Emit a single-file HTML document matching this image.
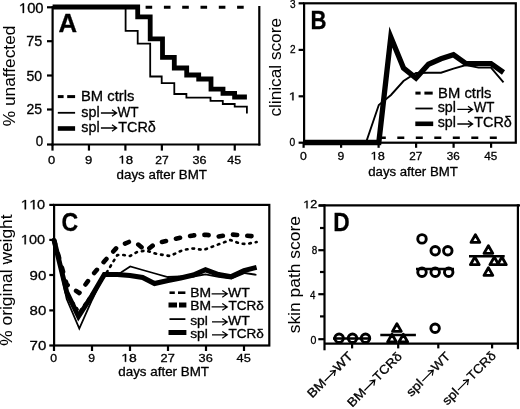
<!DOCTYPE html>
<html><head><meta charset="utf-8"><style>
html,body{margin:0;padding:0;background:#fff;}
svg{display:block;filter:grayscale(1);}
text{font-family:"Liberation Sans",sans-serif;fill:#000;stroke:#000;stroke-width:0.3px;}
.yt text{stroke-width:0.05px;}
</style></head><body>
<svg width="520" height="409" viewBox="0 0 520 409">
<rect x="0" y="0" width="520" height="409" fill="#fff"/>
<g stroke="#000" stroke-linecap="butt" fill="none">
<line x1="52.60" y1="6.00" x2="52.60" y2="145.60" stroke-width="2.2" />
<line x1="51.50" y1="144.50" x2="260.40" y2="144.50" stroke-width="2.2" />
<line x1="259.30" y1="6.00" x2="259.30" y2="145.60" stroke-width="2.2" />
<line x1="47.00" y1="7.30" x2="52.60" y2="7.30" stroke-width="2.2" />
<line x1="47.00" y1="41.20" x2="52.60" y2="41.20" stroke-width="2.2" />
<line x1="47.00" y1="75.50" x2="52.60" y2="75.50" stroke-width="2.2" />
<line x1="47.00" y1="109.50" x2="52.60" y2="109.50" stroke-width="2.2" />
<line x1="47.00" y1="144.50" x2="52.60" y2="144.50" stroke-width="2.2" />
<line x1="52.50" y1="144.50" x2="52.50" y2="150.60" stroke-width="2.2" />
<line x1="88.95" y1="144.50" x2="88.95" y2="150.60" stroke-width="2.2" />
<line x1="125.40" y1="144.50" x2="125.40" y2="150.60" stroke-width="2.2" />
<line x1="161.85" y1="144.50" x2="161.85" y2="150.60" stroke-width="2.2" />
<line x1="198.30" y1="144.50" x2="198.30" y2="150.60" stroke-width="2.2" />
<line x1="234.75" y1="144.50" x2="234.75" y2="150.60" stroke-width="2.2" />
<polyline points="52.6,7.3 243.7,7.3" stroke-width="3" fill="none" stroke-dasharray="6.6 11.7" stroke-dashoffset="16.8"/>
<polyline points="52.6,7.3 125.6,7.3 125.6,30.8 137.7,30.8 137.7,43.6 150.2,43.6 150.2,76.5 161.7,76.5 161.7,83.2 174.3,83.2 174.3,94.0 186.4,94.0 186.4,97.6 210.5,97.6 210.5,100.8 222.8,100.8 222.8,104.0 234.7,104.0 234.7,106.7 246.9,106.7 246.9,113.5" stroke-width="1.8" fill="none" stroke-linejoin="miter"/>
<polyline points="52.6,7.0 137.7,7.0 137.7,16.9 150.2,16.9 150.2,38.9 162.5,38.9 162.5,57.4 174.3,57.4 174.3,68.0 186.7,68.0 186.7,75.0 198.7,75.0 198.7,79.0 211.0,79.0 211.0,89.1 223.0,89.1 223.0,93.4 234.6,93.4 234.6,97.0 246.9,97.0" stroke-width="4.8" fill="none" stroke-linejoin="miter"/>
<line x1="57.80" y1="96.60" x2="63.60" y2="96.60" stroke-width="3" />
<line x1="67.20" y1="96.60" x2="75.10" y2="96.60" stroke-width="3" />
<line x1="57.80" y1="112.80" x2="75.10" y2="112.80" stroke-width="1.8" />
<line x1="57.80" y1="128.50" x2="75.10" y2="128.50" stroke-width="4.6" />
<rect x="304.1" y="3.3" width="211.7" height="139.4" fill="none" stroke-width="2.2"/>
<line x1="298.60" y1="3.30" x2="304.10" y2="3.30" stroke-width="2.2" />
<line x1="298.60" y1="49.90" x2="304.10" y2="49.90" stroke-width="2.2" />
<line x1="298.60" y1="96.30" x2="304.10" y2="96.30" stroke-width="2.2" />
<line x1="298.60" y1="142.70" x2="304.10" y2="142.70" stroke-width="2.2" />
<line x1="303.60" y1="142.70" x2="303.60" y2="147.80" stroke-width="2.2" />
<line x1="341.10" y1="142.70" x2="341.10" y2="147.80" stroke-width="2.2" />
<line x1="378.60" y1="142.70" x2="378.60" y2="147.80" stroke-width="2.2" />
<line x1="416.10" y1="142.70" x2="416.10" y2="147.80" stroke-width="2.2" />
<line x1="453.60" y1="142.70" x2="453.60" y2="147.80" stroke-width="2.2" />
<line x1="491.10" y1="142.70" x2="491.10" y2="147.80" stroke-width="2.2" />
<polyline points="378.8,137.7 497.0,137.7" stroke-width="2.6" fill="none" stroke-dasharray="7 11.5"/>
<polyline points="304.0,142.7 366.0,142.5 378.8,105.0 391.0,95.0 403.5,81.0 416.0,73.0 428.5,72.7 441.0,72.7 453.5,68.6 466.0,65.0 478.5,67.6 491.0,67.6 503.5,82.4" stroke-width="1.9" fill="none" />
<polyline points="304.0,142.5 378.8,142.5 390.8,37.0 403.5,68.0 416.0,78.0 428.5,64.2 441.0,58.8 453.5,54.8 466.0,63.6 478.5,63.6 491.0,63.6 503.5,72.5" stroke-width="5.3" fill="none" stroke-linejoin="miter" stroke-miterlimit="10"/>
<line x1="415.40" y1="93.10" x2="420.60" y2="93.10" stroke-width="3" />
<line x1="424.40" y1="93.10" x2="432.70" y2="93.10" stroke-width="3" />
<line x1="415.40" y1="108.50" x2="432.70" y2="108.50" stroke-width="1.8" />
<line x1="415.30" y1="123.80" x2="433.20" y2="123.80" stroke-width="4.6" />
<rect x="54.1" y="204.9" width="215.2" height="140.6" fill="none" stroke-width="2.2"/>
<line x1="49.30" y1="204.90" x2="54.10" y2="204.90" stroke-width="2.2" />
<line x1="49.30" y1="239.90" x2="54.10" y2="239.90" stroke-width="2.2" />
<line x1="49.30" y1="275.00" x2="54.10" y2="275.00" stroke-width="2.2" />
<line x1="49.30" y1="310.40" x2="54.10" y2="310.40" stroke-width="2.2" />
<line x1="49.30" y1="345.50" x2="54.10" y2="345.50" stroke-width="2.2" />
<line x1="54.00" y1="345.50" x2="54.00" y2="351.00" stroke-width="2.2" />
<line x1="92.00" y1="345.50" x2="92.00" y2="351.00" stroke-width="2.2" />
<line x1="130.00" y1="345.50" x2="130.00" y2="351.00" stroke-width="2.2" />
<line x1="168.00" y1="345.50" x2="168.00" y2="351.00" stroke-width="2.2" />
<line x1="206.00" y1="345.50" x2="206.00" y2="351.00" stroke-width="2.2" />
<line x1="244.00" y1="345.50" x2="244.00" y2="351.00" stroke-width="2.2" />
<line x1="169.50" y1="292.70" x2="174.80" y2="292.70" stroke-width="2.6" />
<line x1="178.00" y1="292.70" x2="185.40" y2="292.70" stroke-width="2.6" />
<line x1="168.50" y1="305.00" x2="177.00" y2="305.00" stroke-width="5" />
<line x1="179.00" y1="305.00" x2="186.40" y2="305.00" stroke-width="5" />
<line x1="169.50" y1="319.10" x2="185.40" y2="319.10" stroke-width="1.8" />
<line x1="168.50" y1="332.50" x2="186.40" y2="332.50" stroke-width="5" />
<polyline points="54.0,240.0 66.7,293.0 79.3,312.0 92.0,294.0 104.6,276.0 117.3,255.0 123.5,255.0 130.0,256.0 137.0,252.0 146.0,250.5 157.0,254.0 170.0,256.0 183.0,250.0 193.0,248.5 203.5,250.0 210.0,247.5 230.4,240.0 240.5,243.7 246.5,244.0 256.6,242.0" stroke-width="2.6" fill="none" stroke-dasharray="1.6 5" stroke-linecap="round" stroke-linejoin="round"/>
<polyline points="54.0,240.0 66.7,284.5 79.3,293.0 92.0,275.5 104.6,261.0 117.3,247.0 130.0,241.5 137.0,243.5 146.0,251.0 155.3,243.5 168.0,240.5 180.6,237.6 193.3,235.4 206.0,234.8 218.6,236.5 231.3,234.5 244.0,235.5 256.6,236.5" stroke-width="4.6" fill="none" stroke-dasharray="4.2 10.2" stroke-linecap="round" stroke-linejoin="round"/>
<polyline points="54.0,240.0 66.7,299.0 79.3,328.5 92.0,300.0 104.3,274.5 117.3,274.0 121.0,272.5 130.2,266.5 142.6,270.0 155.0,273.5 167.7,277.0 180.6,276.5 193.3,276.5 205.5,274.3 218.6,276.8 231.3,278.6 244.8,273.0 256.4,274.8" stroke-width="1.8" fill="none" stroke-linejoin="miter"/>
<polyline points="54.0,240.0 66.7,292.0 78.5,316.5 92.0,295.5 104.3,274.5 117.3,274.5 130.0,275.5 142.6,277.5 154.5,283.5 168.0,280.5 180.6,278.0 193.3,275.0 205.5,269.8 218.6,274.5 231.3,276.6 244.0,270.5 256.6,267.3" stroke-width="5" fill="none" stroke-linejoin="miter"/>
<line x1="324.50" y1="204.30" x2="324.50" y2="350.30" stroke-width="2.2" />
<line x1="319.00" y1="205.40" x2="520.00" y2="205.40" stroke-width="2.2" />
<line x1="517.90" y1="204.30" x2="517.90" y2="349.20" stroke-width="2.2" />
<line x1="324.50" y1="343.70" x2="517.90" y2="343.70" stroke-width="2.2" />
<line x1="318.30" y1="205.60" x2="324.50" y2="205.60" stroke-width="2.2" />
<line x1="318.30" y1="250.20" x2="324.50" y2="250.20" stroke-width="2.2" />
<line x1="318.30" y1="294.20" x2="324.50" y2="294.20" stroke-width="2.2" />
<line x1="318.30" y1="339.20" x2="324.50" y2="339.20" stroke-width="2.2" />
<line x1="320.00" y1="228.00" x2="324.50" y2="228.00" stroke-width="2.2" />
<line x1="320.00" y1="272.00" x2="324.50" y2="272.00" stroke-width="2.2" />
<line x1="320.00" y1="316.40" x2="324.50" y2="316.40" stroke-width="2.2" />
<line x1="352.10" y1="343.70" x2="352.10" y2="348.40" stroke-width="2.2" />
<line x1="398.20" y1="343.70" x2="398.20" y2="348.40" stroke-width="2.2" />
<line x1="438.30" y1="343.70" x2="438.30" y2="348.40" stroke-width="2.2" />
<line x1="492.10" y1="343.70" x2="492.10" y2="348.40" stroke-width="2.2" />
<circle cx="339.1" cy="338.3" r="4.25" fill="none" stroke-width="2.9"/>
<circle cx="352.5" cy="338.3" r="4.25" fill="none" stroke-width="2.9"/>
<circle cx="365.5" cy="338.3" r="4.25" fill="none" stroke-width="2.9"/>
<line x1="333.00" y1="338.40" x2="371.00" y2="338.40" stroke-width="2.5" />
<path d="M396.9,323.7 L401.3,331.4 L392.5,331.4 Z" fill="none" stroke-width="2.8" stroke-linejoin="round"/>
<path d="M392.0,334.3 L396.4,342.0 L387.6,342.0 Z" fill="none" stroke-width="2.8" stroke-linejoin="round"/>
<path d="M403.3,334.3 L407.7,342.0 L398.9,342.0 Z" fill="none" stroke-width="2.8" stroke-linejoin="round"/>
<line x1="380.30" y1="334.90" x2="415.90" y2="334.90" stroke-width="2.5" />
<circle cx="422" cy="238.9" r="4.25" fill="none" stroke-width="2.9"/>
<circle cx="435.2" cy="250.7" r="4.25" fill="none" stroke-width="2.9"/>
<circle cx="447.8" cy="250.7" r="4.25" fill="none" stroke-width="2.9"/>
<circle cx="422" cy="272.3" r="4.25" fill="none" stroke-width="2.9"/>
<circle cx="435.2" cy="272.3" r="4.25" fill="none" stroke-width="2.9"/>
<circle cx="448.7" cy="272.3" r="4.25" fill="none" stroke-width="2.9"/>
<circle cx="435.1" cy="328.3" r="4.25" fill="none" stroke-width="2.9"/>
<line x1="416.00" y1="269.00" x2="454.00" y2="269.00" stroke-width="2.5" />
<path d="M475.4,234.7 L479.8,242.4 L471.0,242.4 Z" fill="none" stroke-width="2.8" stroke-linejoin="round"/>
<path d="M488.4,245.7 L492.8,253.4 L484.0,253.4 Z" fill="none" stroke-width="2.8" stroke-linejoin="round"/>
<path d="M474.8,257.0 L479.2,264.7 L470.4,264.7 Z" fill="none" stroke-width="2.8" stroke-linejoin="round"/>
<path d="M494.3,257.0 L498.7,264.7 L489.9,264.7 Z" fill="none" stroke-width="2.8" stroke-linejoin="round"/>
<path d="M501.9,257.0 L506.3,264.7 L497.5,264.7 Z" fill="none" stroke-width="2.8" stroke-linejoin="round"/>
<path d="M488.4,267.7 L492.8,275.4 L484.0,275.4 Z" fill="none" stroke-width="2.8" stroke-linejoin="round"/>
<line x1="469.00" y1="256.20" x2="504.70" y2="256.20" stroke-width="2.5" />
</g>
<g>
<text x="18.93" y="13.00" font-size="14" textLength="24.68" lengthAdjust="spacingAndGlyphs"> 00</text><path transform="translate(18.93,13.00) scale(0.00722,-0.00684)" d="M525,0H705V1409H560L190,1150V985L525,1210Z" fill="#000" stroke="#000" stroke-width="43.9"/>
<text x="26.30" y="46.20" font-size="14" textLength="16.00" lengthAdjust="spacingAndGlyphs">75</text>
<text x="26.50" y="80.60" font-size="14" textLength="15.60" lengthAdjust="spacingAndGlyphs">50</text>
<text x="26.50" y="113.50" font-size="14" textLength="15.60" lengthAdjust="spacingAndGlyphs">25</text>
<text x="35.80" y="145.70" font-size="14" textLength="7.40" lengthAdjust="spacingAndGlyphs">0</text>
<text x="47.90" y="163.50" font-size="11.2" textLength="7.20" lengthAdjust="spacingAndGlyphs">0</text>
<text x="85.00" y="163.50" font-size="11.2" textLength="7.30" lengthAdjust="spacingAndGlyphs">9</text>
<text x="118.47" y="163.50" font-size="11.2" textLength="14.73" lengthAdjust="spacingAndGlyphs"> 8</text><path transform="translate(118.47,163.50) scale(0.00647,-0.00547)" d="M525,0H705V1409H560L190,1150V985L525,1210Z" fill="#000" stroke="#000" stroke-width="54.9"/>
<text x="155.30" y="163.50" font-size="11.2" textLength="13.40" lengthAdjust="spacingAndGlyphs">27</text>
<text x="192.50" y="163.50" font-size="11.2" textLength="14.00" lengthAdjust="spacingAndGlyphs">36</text>
<text x="227.30" y="163.50" font-size="11.2" textLength="13.80" lengthAdjust="spacingAndGlyphs">45</text>
<text x="116.60" y="178.60" font-size="12.5" textLength="90.40" lengthAdjust="spacingAndGlyphs">days after BMT</text>
<g class="yt" transform="translate(14.60,126.20) rotate(-90)"><text x="0.00" y="0.00" font-size="17" textLength="100.61" lengthAdjust="spacingAndGlyphs">% unaffected</text></g>
<text x="58.60" y="31.50" font-size="25" font-weight="bold" textLength="18.60" lengthAdjust="spacingAndGlyphs">A</text>
<text x="81.00" y="101.20" font-size="14" textLength="53.40" lengthAdjust="spacingAndGlyphs">BM ctrls</text>
<text x="81.30" y="116.90" font-size="14" textLength="18.30" lengthAdjust="spacingAndGlyphs">spl</text><path d="M100.90,113.00H116.30M112.00,109.80L116.60,113.00L112.00,116.20" fill="none" stroke="#000" stroke-width="1.3" stroke-linejoin="miter"/><text x="117.50" y="116.90" font-size="14" textLength="21.10" lengthAdjust="spacingAndGlyphs">WT</text>
<text x="81.30" y="131.90" font-size="14" textLength="18.30" lengthAdjust="spacingAndGlyphs">spl</text><path d="M100.90,128.00H116.30M112.00,124.80L116.60,128.00L112.00,131.20" fill="none" stroke="#000" stroke-width="1.3" stroke-linejoin="miter"/><text x="118.30" y="131.90" font-size="14" textLength="37.60" lengthAdjust="spacingAndGlyphs">TCRδ</text>
<text x="290.00" y="8.30" font-size="11.5" textLength="5.60" lengthAdjust="spacingAndGlyphs">3</text>
<text x="290.00" y="53.40" font-size="11.5" textLength="5.60" lengthAdjust="spacingAndGlyphs">2</text>
<text x="288.85" y="100.30" font-size="11.5" textLength="7.52" lengthAdjust="spacingAndGlyphs"> </text><path transform="translate(288.85,100.30) scale(0.00660,-0.00562)" d="M525,0H705V1409H560L190,1150V985L525,1210Z" fill="#000" stroke="#000" stroke-width="53.4"/>
<text x="289.40" y="146.30" font-size="11.5" textLength="5.70" lengthAdjust="spacingAndGlyphs">0</text>
<text x="299.90" y="159.80" font-size="11.5" textLength="6.80" lengthAdjust="spacingAndGlyphs">0</text>
<text x="337.40" y="159.80" font-size="11.5" textLength="6.80" lengthAdjust="spacingAndGlyphs">9</text>
<text x="370.62" y="159.80" font-size="11.5" textLength="14.19" lengthAdjust="spacingAndGlyphs"> 8</text><path transform="translate(370.62,159.80) scale(0.00623,-0.00562)" d="M525,0H705V1409H560L190,1150V985L525,1210Z" fill="#000" stroke="#000" stroke-width="53.4"/>
<text x="409.30" y="159.80" font-size="11.5" textLength="13.00" lengthAdjust="spacingAndGlyphs">27</text>
<text x="446.80" y="159.80" font-size="11.5" textLength="13.00" lengthAdjust="spacingAndGlyphs">36</text>
<text x="484.30" y="159.80" font-size="11.5" textLength="13.00" lengthAdjust="spacingAndGlyphs">45</text>
<text x="368.20" y="175.70" font-size="12.5" textLength="89.60" lengthAdjust="spacingAndGlyphs">days after BMT</text>
<g class="yt" transform="translate(280.90,116.60) rotate(-90)"><text x="0.00" y="0.00" font-size="17" textLength="98.60" lengthAdjust="spacingAndGlyphs">clinical score</text></g>
<text x="310.60" y="29.40" font-size="25" font-weight="bold" textLength="16.00" lengthAdjust="spacingAndGlyphs">B</text>
<text x="438.10" y="97.70" font-size="14" textLength="53.40" lengthAdjust="spacingAndGlyphs">BM ctrls</text>
<text x="437.70" y="111.70" font-size="14" textLength="18.20" lengthAdjust="spacingAndGlyphs">spl</text><path d="M457.30,109.40H472.30M468.00,106.20L472.60,109.40L468.00,112.60" fill="none" stroke="#000" stroke-width="1.3" stroke-linejoin="miter"/><text x="473.80" y="111.70" font-size="14" textLength="20.70" lengthAdjust="spacingAndGlyphs">WT</text>
<text x="437.70" y="127.10" font-size="14" textLength="18.20" lengthAdjust="spacingAndGlyphs">spl</text><path d="M457.30,124.00H472.30M468.00,120.80L472.60,124.00L468.00,127.20" fill="none" stroke="#000" stroke-width="1.3" stroke-linejoin="miter"/><text x="474.30" y="127.10" font-size="14" textLength="37.60" lengthAdjust="spacingAndGlyphs">TCRδ</text>
<text x="20.79" y="209.30" font-size="13.5" textLength="24.21" lengthAdjust="spacingAndGlyphs">  0</text><path transform="translate(20.79,209.30) scale(0.00742,-0.00659)" d="M525,0H705V1409H560L190,1150V985L525,1210Z" fill="#000" stroke="#000" stroke-width="45.5"/><path transform="translate(29.24,209.30) scale(0.00742,-0.00659)" d="M525,0H705V1409H560L190,1150V985L525,1210Z" fill="#000" stroke="#000" stroke-width="45.5"/>
<text x="20.86" y="244.30" font-size="13.5" textLength="24.15" lengthAdjust="spacingAndGlyphs"> 00</text><path transform="translate(20.86,244.30) scale(0.00707,-0.00659)" d="M525,0H705V1409H560L190,1150V985L525,1210Z" fill="#000" stroke="#000" stroke-width="45.5"/>
<text x="29.60" y="279.50" font-size="13" textLength="16.70" lengthAdjust="spacingAndGlyphs">90</text>
<text x="29.60" y="315.10" font-size="13" textLength="16.70" lengthAdjust="spacingAndGlyphs">80</text>
<text x="29.60" y="350.20" font-size="13" textLength="16.70" lengthAdjust="spacingAndGlyphs">70</text>
<text x="50.30" y="361.80" font-size="11.5" textLength="6.80" lengthAdjust="spacingAndGlyphs">0</text>
<text x="88.30" y="361.80" font-size="11.5" textLength="6.80" lengthAdjust="spacingAndGlyphs">9</text>
<text x="121.31" y="361.80" font-size="11.5" textLength="15.50" lengthAdjust="spacingAndGlyphs"> 8</text><path transform="translate(121.31,361.80) scale(0.00680,-0.00562)" d="M525,0H705V1409H560L190,1150V985L525,1210Z" fill="#000" stroke="#000" stroke-width="53.4"/>
<text x="160.60" y="361.80" font-size="11.5" textLength="14.20" lengthAdjust="spacingAndGlyphs">27</text>
<text x="198.60" y="361.80" font-size="11.5" textLength="14.20" lengthAdjust="spacingAndGlyphs">36</text>
<text x="236.60" y="361.80" font-size="11.5" textLength="14.20" lengthAdjust="spacingAndGlyphs">45</text>
<text x="118.30" y="376.20" font-size="12.5" textLength="90.70" lengthAdjust="spacingAndGlyphs">days after BMT</text>
<g class="yt" transform="translate(12.20,345.70) rotate(-90)"><text x="0.00" y="0.00" font-size="17" textLength="131.29" lengthAdjust="spacingAndGlyphs">% original weight</text></g>
<text x="61.60" y="230.80" font-size="25" font-weight="bold" textLength="16.70" lengthAdjust="spacingAndGlyphs">C</text>
<text x="190.20" y="296.70" font-size="12" textLength="20.80" lengthAdjust="spacingAndGlyphs">BM</text><path d="M211.60,293.80H227.00M222.30,290.40L227.30,293.80L222.30,297.20" fill="none" stroke="#000" stroke-width="1.2" stroke-linejoin="miter"/><text x="228.00" y="296.70" font-size="12" textLength="21.70" lengthAdjust="spacingAndGlyphs">WT</text>
<text x="190.20" y="310.00" font-size="12" textLength="20.80" lengthAdjust="spacingAndGlyphs">BM</text><path d="M211.60,306.90H227.00M222.30,303.50L227.30,306.90L222.30,310.30" fill="none" stroke="#000" stroke-width="1.2" stroke-linejoin="miter"/><text x="228.50" y="310.00" font-size="12" textLength="35.40" lengthAdjust="spacingAndGlyphs">TCRδ</text>
<text x="190.20" y="324.70" font-size="12" textLength="17.70" lengthAdjust="spacingAndGlyphs">spl</text><path d="M212.00,321.90H227.00M222.30,318.50L227.30,321.90L222.30,325.30" fill="none" stroke="#000" stroke-width="1.2" stroke-linejoin="miter"/><text x="228.00" y="324.70" font-size="12" textLength="21.70" lengthAdjust="spacingAndGlyphs">WT</text>
<text x="190.20" y="337.60" font-size="12" textLength="17.70" lengthAdjust="spacingAndGlyphs">spl</text><path d="M212.00,334.80H227.00M222.30,331.40L227.30,334.80L222.30,338.20" fill="none" stroke="#000" stroke-width="1.2" stroke-linejoin="miter"/><text x="228.50" y="337.60" font-size="12" textLength="35.40" lengthAdjust="spacingAndGlyphs">TCRδ</text>
<text x="303.23" y="208.30" font-size="11" textLength="13.97" lengthAdjust="spacingAndGlyphs"> 2</text><path transform="translate(303.23,208.30) scale(0.00613,-0.00537)" d="M525,0H705V1409H560L190,1150V985L525,1210Z" fill="#000" stroke="#000" stroke-width="55.9"/>
<text x="311.70" y="253.50" font-size="11" textLength="5.50" lengthAdjust="spacingAndGlyphs">8</text>
<text x="309.90" y="298.50" font-size="11" textLength="5.40" lengthAdjust="spacingAndGlyphs">4</text>
<text x="310.50" y="343.50" font-size="11" textLength="5.90" lengthAdjust="spacingAndGlyphs">0</text>
<text x="333.20" y="231.40" font-size="25" font-weight="bold" textLength="16.40" lengthAdjust="spacingAndGlyphs">D</text>
<g class="yt" transform="translate(299.60,333.30) rotate(-90)"><text x="0.00" y="0.00" font-size="17" textLength="117.19" lengthAdjust="spacingAndGlyphs">skin path score</text></g>
<g transform="translate(312.30,398.40) rotate(-45)"><text x="0.00" y="0.00" font-size="12.5" textLength="20.73" lengthAdjust="spacingAndGlyphs">BM</text><path d="M21.15,-3.50H35.79M31.49,-6.70L36.09,-3.50L31.49,-0.30" fill="none" stroke="#000" stroke-width="1.15" stroke-linejoin="miter"/><text x="36.62" y="0.00" font-size="12.5" textLength="21.88" lengthAdjust="spacingAndGlyphs">WT</text></g>
<g transform="translate(352.20,407.70) rotate(-45)"><text x="0.00" y="0.00" font-size="12.5" textLength="20.44" lengthAdjust="spacingAndGlyphs">BM</text><path d="M20.86,-3.50H35.29M30.99,-6.70L35.59,-3.50L30.99,-0.30" fill="none" stroke="#000" stroke-width="1.15" stroke-linejoin="miter"/><text x="36.53" y="0.00" font-size="12.5" textLength="34.97" lengthAdjust="spacingAndGlyphs">TCRδ</text></g>
<g transform="translate(411.20,397.20) rotate(-45)"><text x="0.00" y="0.00" font-size="12.5" textLength="18.27" lengthAdjust="spacingAndGlyphs">spl</text><path d="M19.33,-3.50H34.44M30.14,-6.70L34.74,-3.50L30.14,-0.30" fill="none" stroke="#000" stroke-width="1.15" stroke-linejoin="miter"/><text x="35.59" y="0.00" font-size="12.5" textLength="20.91" lengthAdjust="spacingAndGlyphs">WT</text></g>
<g transform="translate(447.30,405.80) rotate(-45)"><text x="0.00" y="0.00" font-size="12.5" textLength="17.58" lengthAdjust="spacingAndGlyphs">spl</text><path d="M18.59,-3.50H33.13M28.83,-6.70L33.43,-3.50L28.83,-0.30" fill="none" stroke="#000" stroke-width="1.15" stroke-linejoin="miter"/><text x="34.95" y="0.00" font-size="12.5" textLength="34.85" lengthAdjust="spacingAndGlyphs">TCRδ</text></g>
</g>
</svg>
</body></html>
